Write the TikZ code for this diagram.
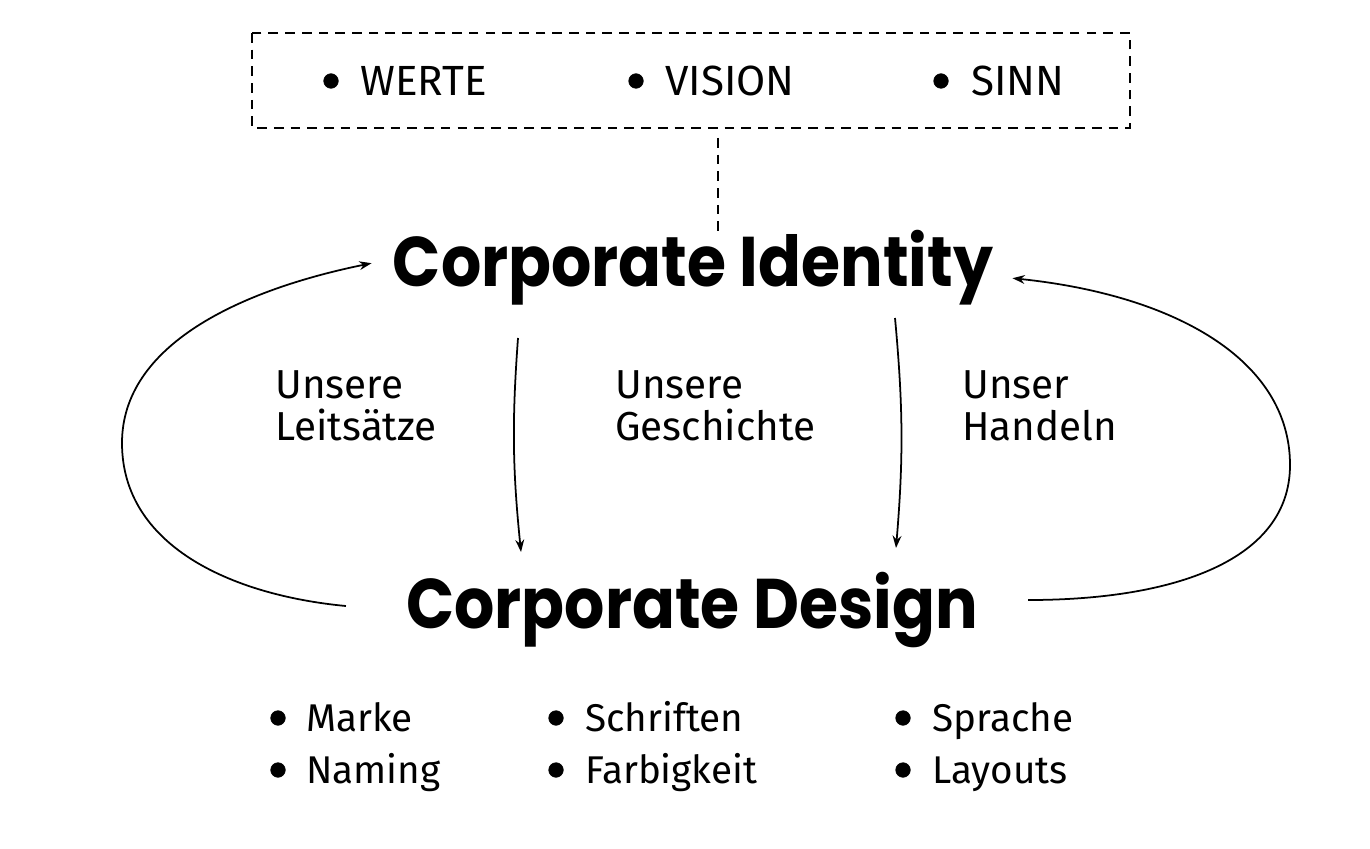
\documentclass[tikz,border=0pt]{standalone}
\usepackage{fontspec}
\setmainfont{Fira Sans}
\newfontfamily\titlefont{Poppins}
\usepackage{tikz,xcolor}
\usetikzlibrary{arrows.meta}

\newcommand{\titletext}[1]{\scalebox{0.9}[1]{#1}}

\tikzset{
  body/.style={font=\fontsize{22}{24}\selectfont, inner sep=0pt, anchor=base west},
  boxtext/.style={body, font=\fontsize{24}{26}\selectfont},
  label/.style={font=\fontsize{23}{24.2}\selectfont, inner sep=0pt, anchor=north west, align=left},
  title/.style={font=\titlefont\bfseries\fontsize{40}{44}\selectfont, inner sep=0pt, anchor=base},
  loop/.style={line width=1pt, -{Stealth[length=7pt,width=5pt]}}
}

\begin{document}
\begin{tikzpicture}
\useasboundingbox (0,0) rectangle (27.4,-16.98);

% Werte, Vision, Sinn
\draw[black,line width=1.1pt,dash pattern=on 5.5pt off 4pt] (5.04,-0.66) rectangle (22.6,-2.56);
\filldraw[black] (6.62,-1.62) circle (0.145); \node[boxtext] (werte) at (7.2,-1.92) {WERTE};
\filldraw[black] (12.72,-1.62) circle (0.145); \node[boxtext] (vision) at (13.3,-1.92) {VISION};
\filldraw[black] (18.82,-1.62) circle (0.145); \node[boxtext] (sinn) at (19.42,-1.92) {SINN};

\coordinate (dtop) at (14.36,-2.76);
\coordinate (dbot) at (14.36,-4.64);
\draw[black,line width=1.1pt,dash pattern=on 5.5pt off 4pt] (dtop) -- (dbot);

\node[title] (ci) at (13.86,-5.74) {\titletext{Corporate Identity}};
\node[title] (cd) at (13.84,-12.56) {\titletext{Corporate Design}};

% the two big loops
\draw[loop] ([xshift=-1.2cm,yshift=0.07cm]cd.west) .. controls (4.6,-11.9) and (2.44,-10.9) .. (2.44,-8.86)
  .. controls (2.44,-6.9) and (4.8,-5.8) .. ([xshift=-0.42cm,yshift=0.1cm]ci.west);
\draw[loop] ([xshift=1cm,yshift=0.19cm]cd.east) .. controls (23.5,-12.0) and (25.8,-11.2) .. (25.8,-9.3)
  .. controls (25.8,-7.2) and (23.5,-5.9) .. ([xshift=0.38cm,yshift=-0.2cm]ci.east);

% inner arrows
\coordinate (la) at (10.36,-6.76); \coordinate (lb) at (10.42,-11.04);
\coordinate (ra) at (17.9,-6.36);  \coordinate (rb) at (17.92,-10.96);
\draw[loop] (la) to[bend right=5] (lb);
\draw[loop] (ra) to[bend left=5] (rb);

\node[label] (leit) at (5.5,-7.40) {Unsere\\Leitsätze};
\node[label] (gesch) at (12.3,-7.40) {Unsere\\Geschichte};
\node[label] (hand) at (19.24,-7.40) {Unser\\Handeln};

% design elements
\filldraw[black] (5.56,-14.36) circle (0.145); \node[body] (marke) at (6.12,-14.62) {Marke};
\filldraw[black] (5.56,-15.4) circle (0.145); \node[body] (naming) at (6.12,-15.66) {Naming};
\filldraw[black] (11.12,-14.36) circle (0.145); \node[body] (schrift) at (11.7,-14.62) {Schriften};
\filldraw[black] (11.12,-15.4) circle (0.145); \node[body] (farbe) at (11.7,-15.66) {Farbigkeit};
\filldraw[black] (18.06,-14.36) circle (0.145); \node[body] (sprache) at (18.64,-14.62) {Sprache};
\filldraw[black] (18.06,-15.4) circle (0.145); \node[body] (layout) at (18.64,-15.66) {Layouts};

\end{tikzpicture}
\end{document}
